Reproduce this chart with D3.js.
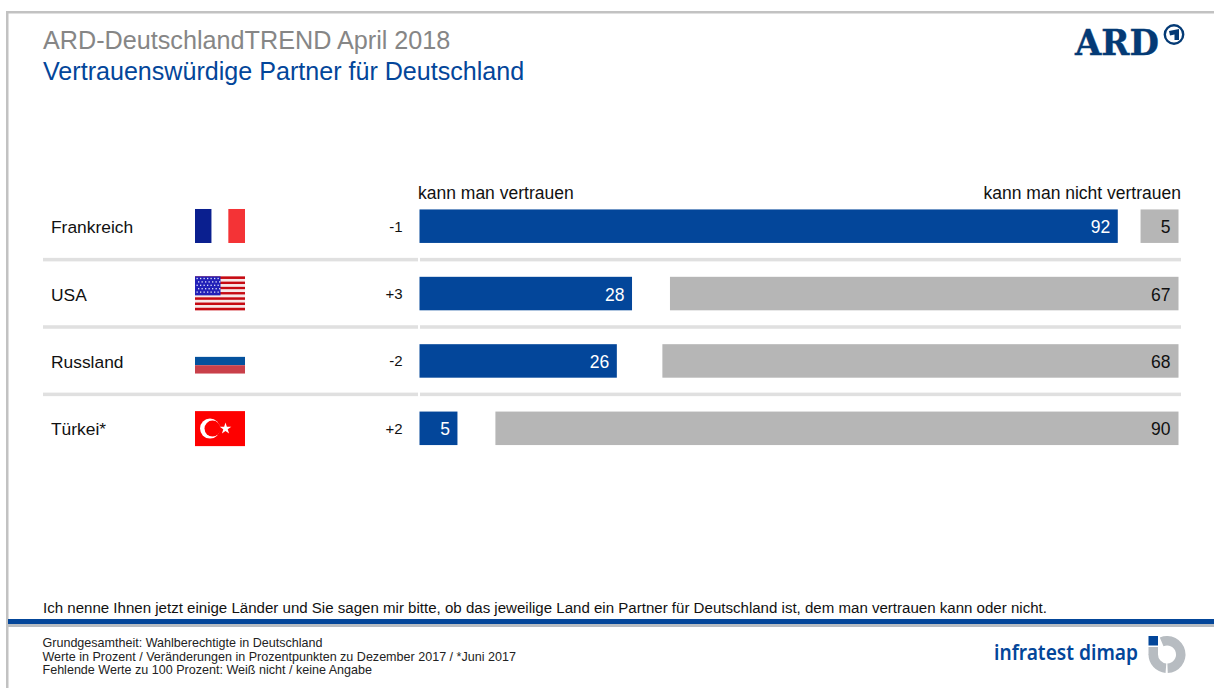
<!DOCTYPE html>
<html lang="de">
<head>
<meta charset="utf-8">
<title>ARD-DeutschlandTREND April 2018</title>
<script src="https://cdn.jsdelivr.net/npm/d3@7"></script>
<style>
  html, body { margin: 0; padding: 0; background: #fff; }
  svg { display: block; font-family: "Liberation Sans", Arial, sans-serif; }
</style>
</head>
<body>
<svg id="chart" width="1214" height="688"></svg>
<script>
// Survey results, in percent
const countries = ["Frankreich", "USA", "Russland", "Türkei*"];
const flags = ["fr", "us", "ru", "tr"];
const trust = [92, 28, 26, 5];
const distrust = [5, 67, 68, 90];
const changes = ["-1", "+3", "-2", "+2"];

const headLeft = "kann man vertrauen";
const headRight = "kann man nicht vertrauen";
const question = "Ich nenne Ihnen jetzt einige Länder und Sie sagen mir bitte, ob das jeweilige Land ein Partner für Deutschland ist, dem man vertrauen kann oder nicht.";
const footnotes = [
  "Grundgesamtheit: Wahlberechtigte in Deutschland",
  "Werte in Prozent / Veränderungen in Prozentpunkten zu Dezember 2017 / *Juni 2017",
  "Fehlende Werte zu 100 Prozent: Weiß nicht / keine Angabe"
];

const BLUE = "#03469a", GREY = "#b6b6b6", RULE = "#e0e0e0";

const svg = d3.select("#chart");

// Page frame
svg.append("rect").attr("x", 7).attr("y", 11).attr("width", 1207).attr("height", 2.5).attr("fill", "#c2c2c2");
svg.append("rect").attr("x", 6).attr("y", 11).attr("width", 2.5).attr("height", 677).attr("fill", "#c2c2c2");

// Headings
svg.append("text").attr("x", 43).attr("y", 48.5).attr("font-size", 25.2).attr("fill", "#868686")
  .text("ARD-DeutschlandTREND April 2018");
svg.append("text").attr("x", 43).attr("y", 79.5).attr("font-size", 25.1).attr("fill", BLUE)
  .text("Vertrauenswürdige Partner für Deutschland");

// Scales: both bar groups share one percent scale; the second is anchored on the right
const x = d3.scaleLinear().domain([0, 100]).range([419.5, 1178.5]);
const y = d3.scaleBand().domain(countries).range([192.5, 462]).paddingInner(0).paddingOuter(0);
const barH = 33.5;
const rowMid = c => y(c) + y.bandwidth() / 2;

// Column heads
svg.append("text").attr("x", 418).attr("y", 199).attr("font-size", 17.5).attr("fill", "#111").text(headLeft);
svg.append("text").attr("x", 1181).attr("y", 199).attr("font-size", 17.5).attr("fill", "#111")
  .attr("text-anchor", "end").text(headRight);

// Row separators, broken just before the bars start
const separators = countries.slice(0, -1);
svg.append("g").selectAll("rect.l").data(separators).join("rect")
  .attr("x", 43).attr("width", 375).attr("height", 3.5)
  .attr("y", c => y(c) + y.bandwidth() - 2).attr("fill", RULE);
svg.append("g").selectAll("rect.r").data(separators).join("rect")
  .attr("x", 420).attr("width", 761).attr("height", 3.5)
  .attr("y", c => y(c) + y.bandwidth() - 2).attr("fill", RULE);

const rows = svg.append("g").selectAll("g").data(countries).join("g");

rows.append("text").attr("x", 51).attr("y", c => rowMid(c) + 7).attr("font-size", 17.4).attr("fill", "#111")
  .text(c => c);
rows.append("text").attr("x", 402.5).attr("y", c => rowMid(c) + 5.5).attr("font-size", 15).attr("fill", "#111")
  .attr("text-anchor", "end").text((c, i) => changes[i]);

// Trust bars from the left
rows.append("rect").attr("x", x(0)).attr("y", c => rowMid(c) - barH / 2).attr("height", barH)
  .attr("width", (c, i) => x(trust[i]) - x(0)).attr("fill", BLUE);
rows.append("text").attr("x", (c, i) => x(trust[i]) - 7.5).attr("y", c => rowMid(c) + 7)
  .attr("font-size", 17.5).attr("fill", "#fff").attr("text-anchor", "end").text((c, i) => trust[i]);

// Distrust bars from the right
rows.append("rect").attr("x", (c, i) => x(100 - distrust[i])).attr("y", c => rowMid(c) - barH / 2).attr("height", barH)
  .attr("width", (c, i) => x(100) - x(100 - distrust[i])).attr("fill", GREY);
rows.append("text").attr("x", x(100) - 8).attr("y", c => rowMid(c) + 7)
  .attr("font-size", 17.5).attr("fill", "#111").attr("text-anchor", "end").text((c, i) => distrust[i]);

// Flags
const flagX = 195, flagW = 50;
function stripes(g, list, top, h, vertical) {
  list.forEach((col, i) => {
    if (vertical) g.append("rect").attr("x", flagX + i * flagW / list.length).attr("y", top)
      .attr("width", flagW / list.length).attr("height", h).attr("fill", col);
    else g.append("rect").attr("x", flagX).attr("y", top + i * h / list.length)
      .attr("width", flagW).attr("height", h / list.length).attr("fill", col);
  });
}
const flagPainters = {
  fr(g, mid) { stripes(g, ["#0a1f8f", "#fff", "#f43336"], mid - 17.5, 34, true); },
  us(g, mid) {
    const top = mid - 17.5, h = 34, n = 13;
    d3.range(n).forEach(i => g.append("rect").attr("x", flagX).attr("y", top + i * h / n)
      .attr("width", flagW).attr("height", h / n).attr("fill", i % 2 ? "#f6e9e9" : "#c60a12"));
    g.append("rect").attr("x", flagX).attr("y", top).attr("width", 25.5).attr("height", 19).attr("fill", "#2220b8");
    d3.range(5).forEach(r => d3.range(7).forEach(k => g.append("rect")
      .attr("x", flagX + 1.5 + k * 3.5 + (r % 2) * 1.5).attr("y", top + 1.5 + r * 3.4)
      .attr("width", 1.3).attr("height", 1.3).attr("fill", "#dfe2f8")));
  },
  // The white band sits on the white page, so only blue and red show
  ru(g, mid) { stripes(g, ["#fff", "#04519d", "#c9404a"], mid - 12.7, 25, false); },
  tr(g, mid) {
    g.append("rect").attr("x", flagX).attr("y", mid - 17.5).attr("width", flagW).attr("height", 35).attr("fill", "#fe0000");
    g.append("circle").attr("cx", 210).attr("cy", mid).attr("r", 10).attr("fill", "#fff");
    g.append("circle").attr("cx", 212.5).attr("cy", mid).attr("r", 8).attr("fill", "#fe0000");
    g.append("path").attr("transform", `translate(225.5,${mid})`)
      .attr("d", d3.symbol().type(d3.symbolStar).size(42)()).attr("fill", "#fff");
  }
};
rows.each(function (c, i) { flagPainters[flags[i]](d3.select(this), rowMid(c) + 0.3); });

// Question wording and footer
svg.append("text").attr("x", 43).attr("y", 613).attr("font-size", 15.07).attr("fill", "#111").text(question);
svg.append("rect").attr("x", 8).attr("y", 619).attr("width", 1206).attr("height", 5).attr("fill", BLUE);
svg.append("rect").attr("x", 8).attr("y", 624).attr("width", 1206).attr("height", 3).attr("fill", "#b7bcc1");
svg.append("g").selectAll("text").data(footnotes).join("text")
  .attr("x", 42.5).attr("y", (d, i) => 646.5 + i * 14 - (i === 2 ? 1 : 0)).attr("font-size", 12.55).attr("fill", "#222").text(d => d);

// ARD wordmark
const ard = svg.append("g").attr("fill", "#043a75");
ard.append("text").attr("x", 1075).attr("y", 54.5).attr("font-family", "'DejaVu Serif'").attr("font-weight", 700)
  .attr("font-size", 35).attr("textLength", 84).attr("lengthAdjust", "spacingAndGlyphs")
  .attr("stroke", "#043a75").attr("stroke-width", 0.4).text("ARD");
ard.append("circle").attr("cx", 1174).attr("cy", 34.5).attr("r", 9.2).attr("fill", "none").attr("stroke", "#043a75").attr("stroke-width", 2.4);
ard.append("path").attr("d", "M1169 31 L1179 29 L1179 40 L1174.5 40 L1174.5 34.5 L1170 35.5 Z");

// infratest dimap wordmark
svg.append("text").attr("x", 994).attr("y", 660).attr("font-family", "'Noto Sans'").attr("font-weight", 600)
  .attr("font-size", 22).attr("fill", BLUE).attr("textLength", 144).attr("lengthAdjust", "spacingAndGlyphs").text("infratest dimap");
const ring = d3.arc().innerRadius(9).outerRadius(18.5);
const logo = svg.append("g").attr("transform", "translate(1167,654.5)");
logo.append("path").attr("fill", "#b7bcc1").attr("d", ring({ startAngle: -0.4, endAngle: 3.1 }));
logo.append("path").attr("fill", "#b7bcc1").attr("d", ring({ startAngle: 3.22, endAngle: 4.71 }));
logo.append("rect").attr("x", -18.5).attr("y", -18.5).attr("width", 9.5).attr("height", 9.5).attr("fill", BLUE);
logo.append("rect").attr("x", -18.5).attr("y", -7.5).attr("width", 9.5).attr("height", 8).attr("fill", "#b7bcc1");
</script>
</body>
</html>
